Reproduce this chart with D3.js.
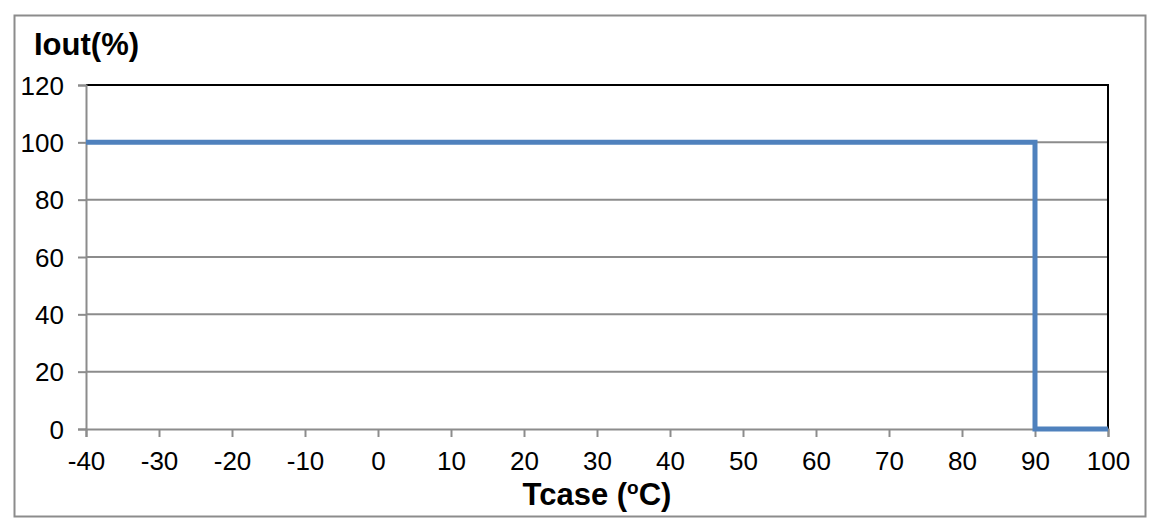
<!DOCTYPE html>
<html>
<head>
<meta charset="utf-8">
<script src="https://cdn.jsdelivr.net/npm/d3@7"></script>
<style>
  body { margin: 0; background: #fff; }
  text { font-family: "Liberation Sans", Arial, sans-serif; fill: #000; }
</style>
</head>
<body>
<div id="chart"></div>
<script>
// derating curve: output current vs case temperature
var tcase = [-40, 90, 90, 100];
var iout = [100, 100, 0, 0];
var xTicks = [-40, -30, -20, -10, 0, 10, 20, 30, 40, 50, 60, 70, 80, 90, 100];
var yTicks = [0, 20, 40, 60, 80, 100, 120];

var W = 1160, H = 527;
var margin = { top: 85, right: 52, bottom: 98, left: 86 };
var width = W - margin.left - margin.right,
    height = H - margin.top - margin.bottom;

var svg = d3.select("#chart").append("svg")
    .attr("width", W)
    .attr("height", H);

// outer frame
svg.append("rect")
    .attr("x", 14.5).attr("y", 15.5)
    .attr("width", 1131).attr("height", 501)
    .attr("fill", "none")
    .attr("stroke", "#8c8c8c")
    .attr("stroke-width", 2);

var g = svg.append("g")
    .attr("transform", "translate(" + margin.left + "," + margin.top + ")");

var x = d3.scaleLinear().domain([-40, 100]).range([0, width]);
var y = d3.scaleLinear().domain([0, 120]).range([height, 0]);

// gridlines
g.selectAll(".grid")
    .data(yTicks.filter(function(d) { return d > 0 && d < 120; }))
    .enter().append("line")
    .attr("class", "grid")
    .attr("x1", 0).attr("x2", width)
    .attr("y1", function(d) { return y(d); })
    .attr("y2", function(d) { return y(d); })
    .attr("stroke", "#8c8c8c")
    .attr("stroke-width", 2);

// top and right border (black)
g.append("path")
    .attr("d", "M0," + y(120) + "H" + x(100) + "V" + y(0))
    .attr("fill", "none")
    .attr("stroke", "#000")
    .attr("stroke-width", 2);

var fmt = function(d) { return String(d); };
var yAxis = d3.axisLeft(y).tickValues(yTicks).tickFormat(fmt).tickSize(8).tickPadding(14);
var xAxis = d3.axisBottom(x).tickValues(xTicks).tickFormat(fmt).tickSize(8).tickPadding(15);

var ya = g.append("g").attr("class", "y-axis axis").call(yAxis);
var xa = g.append("g").attr("class", "x-axis axis")
    .attr("transform", "translate(0," + height + ")")
    .call(xAxis);

[ya, xa].forEach(function(a) {
    a.select(".domain").attr("stroke", "#8c8c8c").attr("stroke-width", 2);
    a.selectAll(".tick line").attr("stroke", "#8c8c8c").attr("stroke-width", 2);
    a.selectAll(".tick text")
        .style("font-family", "'Liberation Sans', Arial, sans-serif")
        .style("font-size", "26px")
        .attr("fill", "#000");
});
xa.selectAll(".tick text").attr("dy", "0.71em");
ya.selectAll(".tick text").attr("dy", "0.35em");

// data line
var line = d3.line()
    .x(function(d, i) { return x(tcase[i]); })
    .y(function(d) { return y(d); });

g.append("path")
    .datum(iout)
    .attr("d", line)
    .attr("fill", "none")
    .attr("stroke", "#4f81bd")
    .attr("stroke-width", 5)
    .attr("stroke-linejoin", "miter");

// titles
svg.append("text")
    .attr("x", 34).attr("y", 55)
    .style("font-size", "31px")
    .style("font-weight", "bold")
    .text("Iout(%)");

var xt = svg.append("text")
    .attr("x", margin.left + width / 2).attr("y", 505)
    .attr("text-anchor", "middle")
    .style("font-size", "31px")
    .style("font-weight", "bold");
xt.append("tspan").text("Tcase (");
xt.append("tspan").attr("font-size", "19px").attr("dy", "-11").text("o");
xt.append("tspan").attr("dy", "11").text("C)");
</script>
</body>
</html>
